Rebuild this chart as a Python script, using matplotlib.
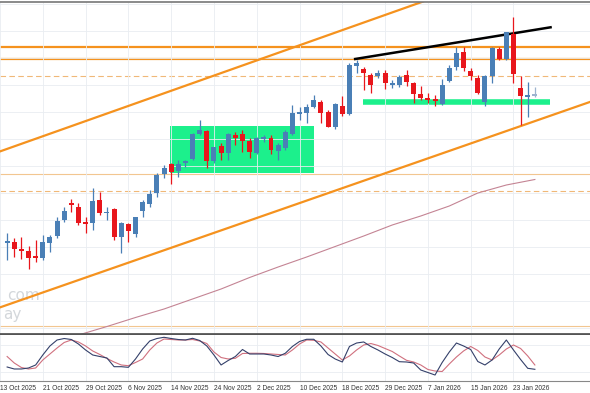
import numpy as np
import pandas as pd
import matplotlib
matplotlib.use('Agg')
import matplotlib.pyplot as plt
from matplotlib.patches import Rectangle

# ---------------- data (price units arbitrary) ----------------
dates = [d for d in pd.bdate_range('2025-10-13', '2026-01-28')
         if d not in (pd.Timestamp('2025-12-25'), pd.Timestamp('2026-01-01'))]

# candles from 14 Oct 2025 (position 1) to 28 Jan 2026 (position 75)
opens = [157.5, 158.3, 151.3, 149.3, 144.0, 142.3, 156.7, 164.0, 180.0, 196.7,
         193.3, 178.3, 176.7, 200.0, 187.3, 190.7, 163.3, 176.0, 166.0, 189.0,
         195.7, 206.7, 226.0, 235.7, 229.0, 236.7, 240.7, 265.7, 269.0, 239.3,
         254.5, 247.3, 265.0, 265.7, 259.3, 246.7, 260.7, 262.3, 249.3, 251.7,
         265.7, 285.7, 286.7, 293.3, 298.3, 288.3, 272.7, 294.0, 286.0, 334.3,
         331.0, 325.0, 324.5, 327.0, 315.3, 315.0, 325.0, 316.7, 305.7, 301.7,
         300.7, 296.0, 319.3, 333.3, 348.3, 329.0, 321.7, 298.3, 324.0, 350.7,
         340.7, 366.0, 312.3, 303.3, 304.5]
highs = [167.0, 162.0, 163.3, 154.0, 160.0, 165.0, 165.0, 183.3, 193.3, 200.7,
         197.3, 183.3, 211.7, 208.3, 193.3, 192.0, 178.3, 176.7, 182.7, 200.0,
         210.0, 226.7, 235.0, 236.7, 240.0, 240.0, 266.7, 280.0, 270.0, 253.3,
         256.7, 267.0, 268.3, 270.0, 261.7, 263.3, 265.0, 265.0, 256.7, 270.0,
         295.0, 293.3, 296.0, 305.0, 300.0, 290.0, 297.3, 304.5, 336.7, 340.0,
         333.0, 326.7, 330.0, 329.7, 320.0, 325.0, 330.0, 318.3, 314.0, 306.7,
         305.0, 320.7, 335.0, 353.3, 353.3, 331.7, 325.0, 325.0, 353.3, 353.3,
         368.3, 383.3, 324.0, 318.3, 313.0]
lows = [140.0, 143.0, 141.0, 131.0, 138.3, 140.0, 148.3, 161.7, 178.3, 188.3,
        175.0, 166.7, 170.0, 185.0, 180.0, 160.0, 146.7, 158.3, 163.3, 183.3,
        193.3, 203.3, 221.7, 216.0, 222.7, 233.3, 240.0, 265.0, 232.5, 236.7,
        240.0, 240.0, 255.0, 248.3, 241.7, 246.0, 258.3, 246.0, 240.0, 250.0,
        265.0, 280.0, 276.7, 291.7, 276.7, 272.7, 270.7, 284.5, 285.0, 327.3,
        310.0, 307.3, 322.0, 310.7, 312.0, 312.7, 314.0, 296.7, 300.0, 296.7,
        294.0, 295.0, 318.3, 330.0, 329.0, 320.0, 306.0, 294.0, 316.7, 340.0,
        340.0, 317.3, 275.0, 282.7, 303.5]
closes = [159.0, 150.7, 149.0, 142.3, 142.0, 158.3, 163.3, 179.3, 189.3, 194.7,
          177.3, 176.0, 199.3, 186.7, 188.3, 162.7, 177.3, 169.0, 182.7, 198.3,
          205.7, 225.0, 232.3, 228.0, 235.7, 239.0, 265.7, 270.0, 239.5, 253.3,
          247.3, 266.5, 262.3, 259.3, 248.3, 261.7, 262.7, 250.0, 255.0, 268.3,
          286.7, 288.3, 293.3, 300.0, 287.3, 273.3, 295.7, 285.7, 335.0, 336.7,
          327.3, 315.0, 327.3, 316.7, 316.7, 323.3, 318.3, 305.7, 302.3, 300.0,
          299.0, 315.0, 331.7, 347.3, 331.7, 324.3, 307.3, 324.0, 351.7, 340.7,
          367.7, 326.0, 304.3, 305.3, 305.5]

# long moving average, read every 4 bars
ma_pos = [11, 15, 19, 23, 27, 31, 35, 39, 43, 47, 51, 55, 59, 63, 67, 71, 75]
ma_val = [65, 73.5, 82.5, 91, 101, 111, 122.5, 133, 143, 153.5, 164, 175, 184,
          194, 207, 215, 220.5]

# stochastic (main, signal) from 14 Oct 2025
stoch_k = [31.1, 26.7, 26.7, 28.9, 35.6, 57.8, 77.8, 91.1, 94.4, 92.2,
           82.2, 68.9, 57.8, 54.4, 51.1, 31.8, 31.8, 30.4, 48.9, 71.1,
           88.9, 94.4, 97.1, 94.4, 92.2, 91.1, 94.9, 90.0, 77.8, 57.8,
           35.6, 45.6, 54.4, 70.0, 60.0, 60.0, 60.0, 57.8, 54.4, 61.6,
           76.7, 87.8, 92.7, 92.7, 77.8, 58.9, 48.9, 42.2, 76.7, 84.4,
           86.7, 76.7, 68.9, 60.0, 52.2, 42.9, 42.2, 40.0, 24.4, 18.9,
           13.3, 41.1, 64.4, 84.4, 77.8, 70.0, 43.3, 35.6, 46.7, 71.1,
           91.1, 68.9, 47.8, 28.2, 26.0]
stoch_d = [54.4, 40.0, 30.0, 26.7, 28.9, 46.7, 60.0, 73.3, 85.6, 91.1,
           86.7, 77.8, 66.7, 58.9, 50.0, 42.2, 35.6, 34.0, 41.1, 48.9,
           68.9, 84.4, 93.3, 92.2, 91.1, 91.1, 92.2, 88.9, 83.3, 64.4,
           52.2, 48.9, 50.4, 61.1, 61.6, 61.6, 61.1, 60.0, 58.9, 57.8,
           68.9, 82.2, 91.1, 90.4, 86.7, 73.3, 60.0, 46.7, 55.6, 68.9,
           80.0, 83.3, 78.9, 72.2, 65.6, 55.6, 46.0, 42.2, 35.6, 25.6,
           22.2, 21.1, 37.8, 53.3, 66.7, 76.7, 67.8, 53.3, 46.7, 57.8,
           71.1, 80.0, 72.2, 55.6, 35.6]

# drawn objects
levels_thick = [353.0, 340.7]
levels_dash = [323.7, 208.7]
levels_thin = [226.3, 74.0]
chan_upper = [(0.56, 250.0), (50.7, 376.7)]
chan_lower = [(0.56, 94.0), (82.7, 298.0)]
black_line = [(49.8, 341.0), (77.2, 372.7)]
support = [(50.9, 298.0), (77.1, 298.0)]
box = [(23.9, 227.3), (44.0, 274.0)]

# ---------------- figure ----------------
H = 393.0
fig = plt.figure(figsize=(5.9, 3.93), dpi=100)
ax = fig.add_axes([0, 1 - 334 / H, 1, (334 - 1.5) / H])
ax2 = fig.add_axes([0, 1 - 381 / H, 1, (381 - 335) / H], sharex=ax)

x = np.arange(1, len(opens) + 1)
tick_pos = list(range(0, len(dates), 6))
tick_lab = [f'{dates[i].day} {dates[i]:%b %Y}' for i in tick_pos]

ax.set_xlim(0.557, 82.73)
ax.set_ylim(66, 398.5)
ax.set_xticks(tick_pos)
ax.set_yticks(np.arange(72, 398, 27))
ax.grid(True, color='#E9EDF1', lw=0.6, zorder=0)
ax.tick_params(labelbottom=False, labelleft=False, length=0)
for s in ['left', 'right']:
    ax.spines[s].set_visible(False)
ax.spines['top'].set_color('#777777')
ax.spines['top'].set_linewidth(1.2)
ax.spines['bottom'].set_color('#555555')
ax.spines['bottom'].set_linewidth(2)

# box and support
ax.add_patch(Rectangle(box[0], box[1][0] - box[0][0], box[1][1] - box[0][1],
                       facecolor='#1CF08C', edgecolor='none', zorder=1))
ax.plot([support[0][0], support[1][0]], [support[0][1], support[1][1]],
        color='#1CF08C', lw=4, solid_capstyle='butt', zorder=1)

# horizontal levels
for lv in levels_thick:
    ax.axhline(lv, color='#F5921E', lw=1.6, zorder=1.5)
for lv in levels_dash:
    ax.axhline(lv, color='#F0B878', lw=0.8, ls=(0, (5, 3)), zorder=1.5)
for lv in levels_thin:
    ax.axhline(lv, color='#F2C690', lw=0.8, zorder=1.5)

# channel lines
ax.axline(chan_upper[0], chan_upper[1], color='#F5921E', lw=1.6, zorder=1.6)
ax.axline(chan_lower[0], chan_lower[1], color='#F5921E', lw=1.6, zorder=1.6)
ax.plot([black_line[0][0], black_line[1][0]], [black_line[0][1], black_line[1][1]],
        color='black', lw=1.8, zorder=1.7)

# moving average
ax.plot(ma_pos, ma_val, color='#C48494', lw=0.8, zorder=1.8)

# watermark (only the tail of it shows at the left edge)
ax.text(0.012, 0.115, 'com', transform=ax.transAxes, ha='left', va='center',
        fontsize=11, color='#D3D7DB', zorder=0.5)
ax.text(0.005, 0.060, 'ay', transform=ax.transAxes, ha='left', va='center',
        fontsize=11, color='#D3D7DB', zorder=0.5)

# candles
o = np.array(opens); c = np.array(closes)
up = c >= o
col = np.where(up, '#4A7FB6', '#E8161C')
col[-1] = '#9DB3CF'
ax.vlines(x, lows, highs, colors=col, lw=0.9, zorder=3)
bh = np.maximum(np.abs(c - o), 1.2)
ax.bar(x, bh, bottom=np.minimum(o, c), width=0.7, color=col, edgecolor='none', zorder=3.1)

# stochastic panel
ax2.set_ylim(0, 102.2)
ax2.set_yticks([20, 80])
ax2.grid(True, color='#E9EDF1', lw=0.6, zorder=0)
ax2.plot(x, stoch_d, color='#D0707E', lw=0.8, zorder=2)
ax2.plot(x, stoch_k, color='#34406A', lw=0.8, zorder=2.1)
for s in ['left', 'right', 'top']:
    ax2.spines[s].set_visible(False)
ax2.spines['bottom'].set_color('#888888')
ax2.spines['bottom'].set_linewidth(0.8)
ax2.set_xticks(tick_pos)
ax2.set_xticklabels(tick_lab, family=['Liberation Sans Narrow', 'Liberation Sans', 'DejaVu Sans'],
                    fontsize=4.8, color='#333333', ha='left')
ax2.tick_params(axis='x', length=0, pad=3)
ax2.tick_params(axis='y', labelleft=False, length=0)

fig.savefig('out.png', dpi=100)
